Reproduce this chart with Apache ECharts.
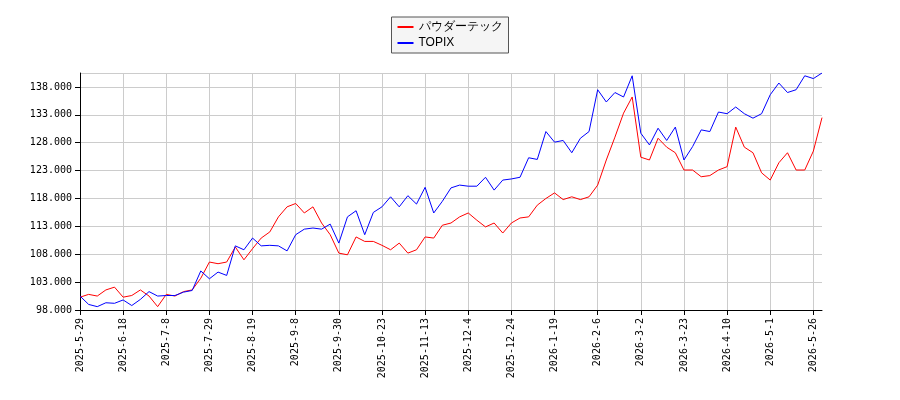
<!DOCTYPE html>
<html><head><meta charset="utf-8">
<script src="https://cdn.jsdelivr.net/npm/echarts@6/dist/echarts.min.js"></script>
</head><body style="margin:0">
<div id="main" style="width:900px;height:400px"></div>
<script>
var tickLabels = ['2025-5-29','2025-6-18','2025-7-8','2025-7-29','2025-8-19','2025-9-8','2025-9-30','2025-10-23','2025-11-13','2025-12-4','2025-12-24','2026-1-19','2026-2-6','2026-3-2','2026-3-23','2026-4-10','2026-5-1','2026-5-26'];
var stockValues = [100.3,100.8,100.5,101.6,102.1,100.3,100.6,101.6,100.5,98.6,
  100.8,100.5,101.3,101.6,103.7,106.6,106.3,106.6,109.3,107,
  109.0,110.9,112,114.7,116.5,117.1,115.4,116.5,113.6,111.5,
  108.2,107.9,111.1,110.3,110.3,109.6,108.8,110,108.2,108.8,
  111.1,110.9,113.2,113.6,114.7,115.4,114.1,112.9,113.6,111.8,
  113.6,114.5,114.7,116.8,118,119,117.8,118.3,117.8,118.3,
  120.4,124.9,129,133.3,136.2,125.4,124.9,128.8,127.2,126.2,
  123.1,123.1,121.9,122.1,123.1,123.7,130.8,127.2,126.2,122.6,
  121.3,124.4,126.2,123.1,123.1,126.5,132.5];
var topixValues = [100.5,99,98.6,99.3,99.2,99.8,98.8,99.9,101.3,100.5,
  100.6,100.6,101.2,101.5,105.0,103.6,104.8,104.2,109.5,108.8,
  110.9,109.5,109.6,109.5,108.6,111.5,112.5,112.7,112.5,113.4,
  110,114.7,115.8,111.5,115.5,116.5,118.3,116.5,118.5,117,
  120,115.4,117.5,119.9,120.4,120.2,120.2,121.8,119.5,121.3,
  121.5,121.8,125.3,125,130,128.1,128.4,126.2,128.8,130,
  137.5,135.3,137,136.2,140,129.7,127.6,130.6,128.4,130.8,
  124.9,127.3,130.3,130,133.5,133.2,134.4,133.2,132.4,133.2,
  136.6,138.7,137,137.5,140,139.5,140.5];
var categories = stockValues.map(function (v, i) { return i % 5 === 0 ? tickLabels[i / 5] : '\u200b'.repeat(i + 1); });

var myChart = echarts.init(document.getElementById('main'));
var option = {
  animation: false,
  legend: {
    top: 17, left: 'center', itemWidth: 16, itemHeight: 2, icon: 'rect',
    borderColor: '#555', borderWidth: 1, borderRadius: 0, padding: [4, 6], orient: 'vertical', itemGap: 4,
    backgroundColor: '#f5f5f5', textStyle: { fontSize: 12, color: '#000' },
    data: ['パウダーテック', 'TOPIX']
  },
  grid: { left: 80, right: 78, top: 73, bottom: 90 },
  xAxis: {
    type: 'category', data: categories, boundaryGap: false,
    axisLine: { lineStyle: { color: '#000' } },
    axisTick: { interval: function (i) { return i % 5 === 0; }, lineStyle: { color: '#000' } },
    axisLabel: { interval: function (i) { return i % 5 === 0; }, rotate: 90, fontSize: 10, color: '#000', fontFamily: 'DejaVu Sans Mono' },
    splitLine: { show: true, interval: function (i) { return i % 5 === 0; }, lineStyle: { color: '#ccc' } }
  },
  yAxis: {
    type: 'value', min: 98, max: 140.5, interval: 5,
    axisLine: { show: true, lineStyle: { color: '#000' } },
    axisTick: { show: true, lineStyle: { color: '#000' } },
    axisLabel: { showMaxLabel: false, fontSize: 10, color: '#000', fontFamily: 'DejaVu Sans Mono', formatter: function (v) { return v.toFixed(3); } },
    splitLine: { lineStyle: { color: '#ccc' } }
  },
  series: [
    { name: 'パウダーテック', type: 'line', data: stockValues, symbol: 'none', lineStyle: { color: '#ff0000', width: 1 }, itemStyle: { color: '#ff0000' } },
    { name: 'TOPIX', type: 'line', data: topixValues, symbol: 'none', lineStyle: { color: '#0000ff', width: 1 }, itemStyle: { color: '#0000ff' } }
  ]
};
myChart.setOption(option);
</script>
</body></html>
